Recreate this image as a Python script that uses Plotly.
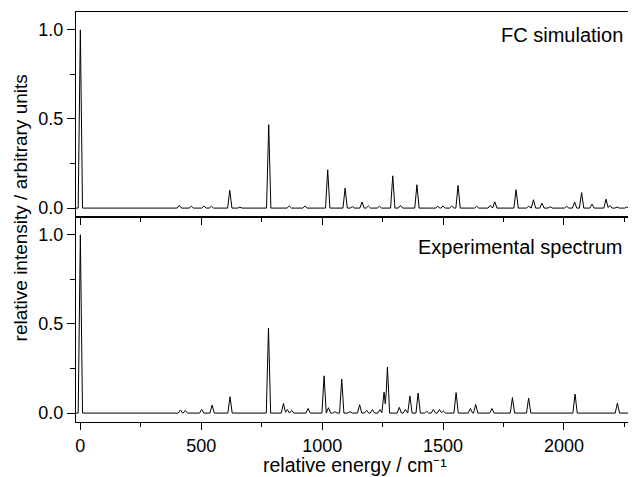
import numpy as np
import plotly.graph_objects as go

# ---- data: peak positions (cm^-1) and relative intensities ----
fc_pos = [0, 409, 459, 511, 542, 618, 660, 779, 864, 929, 1023, 1095, 1125, 1165, 1191,
          1237, 1292, 1324, 1392, 1478, 1500, 1536, 1562, 1639, 1695, 1714, 1802, 1854,
          1874, 1909, 1943, 2011, 2044, 2073, 2116, 2174, 2190, 2220, 2260]
fc_int = [1.0, 0.015, 0.01, 0.012, 0.01, 0.10, 0.005, 0.468, 0.012, 0.012, 0.215, 0.112,
          0.008, 0.034, 0.012, 0.01, 0.181, 0.015, 0.131, 0.01, 0.012, 0.012, 0.127, 0.01,
          0.015, 0.035, 0.103, 0.01, 0.047, 0.028, 0.008, 0.01, 0.034, 0.087, 0.022, 0.05,
          0.015, 0.006, 0.006]

exp_pos = [0, 414, 434, 502, 545, 619, 778, 840, 856, 874, 942, 1008, 1026, 1053, 1081,
           1115, 1155, 1184, 1208, 1239, 1256, 1270, 1319, 1344, 1363, 1397, 1432, 1460,
           1485, 1501, 1554, 1613, 1635, 1702, 1787, 1854, 2046, 2221]
exp_int = [1.0, 0.017, 0.015, 0.02, 0.045, 0.092, 0.477, 0.054, 0.02, 0.015, 0.026, 0.209,
           0.03, 0.008, 0.191, 0.008, 0.047, 0.015, 0.02, 0.02, 0.118, 0.258, 0.032, 0.02,
           0.096, 0.113, 0.01, 0.02, 0.02, 0.012, 0.115, 0.026, 0.048, 0.026, 0.087, 0.084,
           0.107, 0.056]

x_ticks = [0, 500, 1000, 1500, 2000]
y_ticks = [0.0, 0.5, 1.0]
x_range = [-18, 2298]
y_range = [-0.05, 1.1]

HALF = 9.0  # half base width of each line (style)


def spectrum(pos, inten, xr):
    pos = np.asarray(pos, float)
    inten = np.asarray(inten, float)
    xs = np.unique(np.concatenate([pos - HALF, pos, pos + HALF, xr]))
    ys = np.zeros_like(xs)
    for p, h in zip(pos, inten):
        ys += h * np.clip(1 - np.abs(xs - p) / HALF, 0, None)
    return xs, ys


fx, fy = spectrum(fc_pos, fc_int, x_range)
ex, ey = spectrum(exp_pos, exp_int, x_range)

FONT = "Liberation Sans, Arial, sans-serif"

fig = go.Figure()
fig.add_trace(go.Scatter(x=fx, y=fy, mode="lines", line=dict(color="black", width=1),
                         xaxis="x", yaxis="y", showlegend=False, hoverinfo="skip"))
fig.add_trace(go.Scatter(x=ex, y=ey, mode="lines", line=dict(color="black", width=1),
                         xaxis="x2", yaxis="y2", showlegend=False, hoverinfo="skip"))

common_x = dict(range=x_range, tickvals=x_ticks, showgrid=False, zeroline=False,
                showline=True, linecolor="black", linewidth=1, mirror=True,
                ticks="outside", ticklen=7, tickcolor="black", tickwidth=1,
                minor=dict(dtick=250, tick0=0, ticks="outside", ticklen=4,
                           tickcolor="black", tickwidth=1),
                tickfont=dict(family=FONT, size=18, color="black"))
common_y = dict(range=y_range, tickvals=y_ticks, tickformat=".1f", showgrid=False,
                zeroline=False, showline=True, linecolor="black", linewidth=1,
                mirror=False, ticks="outside", ticklen=8, tickcolor="black", tickwidth=1,
                minor=dict(dtick=0.25, tick0=0, ticks="outside", ticklen=5,
                           tickcolor="black", tickwidth=1),
                tickfont=dict(family=FONT, size=18, color="black"))

# page body has an 8px margin: figure is 8px smaller and margins shifted accordingly
fig.update_layout(
    width=628, height=469,
    margin=dict(l=68, r=0, t=4, b=55),
    paper_bgcolor="white", plot_bgcolor="white",
    xaxis=dict(common_x, domain=[0, 1], anchor="y", showticklabels=False),
    yaxis=dict(common_y, domain=[0.5, 1], anchor="x"),
    xaxis2=dict(common_x, domain=[0, 1], anchor="y2", matches="x"),
    yaxis2=dict(common_y, domain=[0, 0.5], anchor="x2"),
    annotations=[
        dict(text="FC simulation", xref="paper", yref="paper", x=0.9804, y=0.944,
             xanchor="right", yanchor="middle", showarrow=False,
             font=dict(family=FONT, size=20, color="black")),
        dict(text="Experimental spectrum", xref="paper", yref="paper", x=0.9804, y=0.4276,
             xanchor="right", yanchor="middle", showarrow=False,
             font=dict(family=FONT, size=20, color="black")),
        dict(text="relative energy / cm⁻¹", xref="paper", yref="paper",
             x=0.498, y=-0.106, xanchor="center", yanchor="middle", showarrow=False,
             font=dict(family=FONT, size=19.5, color="black")),
        dict(text="relative intensity / arbitrary units", xref="paper", yref="paper",
             x=-0.1, y=0.521, xanchor="center", yanchor="middle", showarrow=False,
             textangle=-90, font=dict(family=FONT, size=19, color="black")),
    ],
)

fig.write_html("out.html")
